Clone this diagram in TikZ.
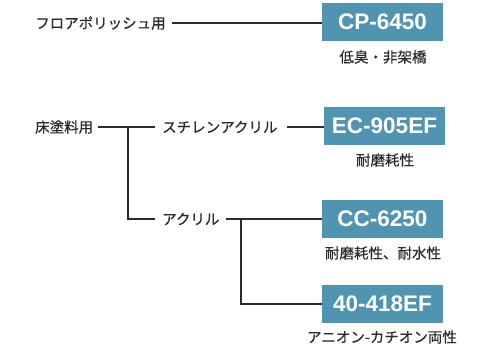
\documentclass[tikz,border=0pt]{standalone}
\usepackage{fontspec}
\setmainfont{Noto Sans CJK JP}
\newfontfamily\jpfont{Noto Sans CJK JP}[FakeBold=0.6]
\newfontfamily\boxfont{Liberation Sans}
\usetikzlibrary{positioning}
\definecolor{boxblue}{HTML}{5094B2}
\definecolor{inkgray}{HTML}{2B2B2B}
\tikzset{
        % category labels on the left
        item/.style={anchor=west, inner sep=0pt, text=inkgray, font=\jpfont\fontsize{14.5}{18}\selectfont},
        % product boxes
        prodbox/.style={rectangle, fill=boxblue, text=white, minimum width=121pt, minimum height=38pt,
            inner sep=0pt, font=\boxfont\bfseries\fontsize{22.5}{26}\selectfont},
        % notes under the boxes
        note/.style={inner sep=0pt, text=inkgray, font=\jpfont\fontsize{14.5}{18}\selectfont},
        % connectors
        link/.style={draw=inkgray, line width=2pt}
}
\begin{document}
\begin{tikzpicture}[x=1pt, y=-1pt]
    \useasboundingbox (0,0) rectangle (493,349);
    % labels
    \node[item] (polish) at (35,23) {フロアポリッシュ用};
    \node[item] (floor) at (35,127) {床塗料用};
    \node[item] (styacr) at (162,127) {スチレンアクリル};
    \node[item] (acr) at (162,219) {アクリル};
    % products
    \node[prodbox] (cp) at (382.5,22) {CP-6450};
    \node[prodbox] (ec) at (384.5,125.5) {EC-905EF};
    \node[prodbox] (cc) at (382.5,219) {CC-6250};
    \node[prodbox] (ef) at (382.5,304) {40-418EF};
    % notes
    \node[note] (cpnote) at (383,57) {低臭・非架橋};
    \node[note] (ecnote) at (385,160) {耐磨耗性};
    \node[note] (ccnote) at (383,253) {耐磨耗性、耐水性};
    \node[note] (efnote) at (382,337) {アニオン-カチオン両性};
    % joints
    \coordinate (j1) at (128,127);
    \coordinate (j2) at (241,219);
    % connectors
    \draw[link] ([xshift=6pt]polish.east) -- (cp.west |- polish.east);
    \draw[link] ([xshift=5pt]floor.east) -- ([xshift=-7pt]styacr.west);
    \draw[link] (j1) |- ([xshift=-7pt]acr.west);
    \draw[link] ([xshift=9pt]styacr.east) -- (ec.west |- styacr.east);
    \draw[link] ([xshift=6pt]acr.east) -- (cc.west);
    \draw[link] (j2) |- (ef.west);
\end{tikzpicture}
\end{document}
